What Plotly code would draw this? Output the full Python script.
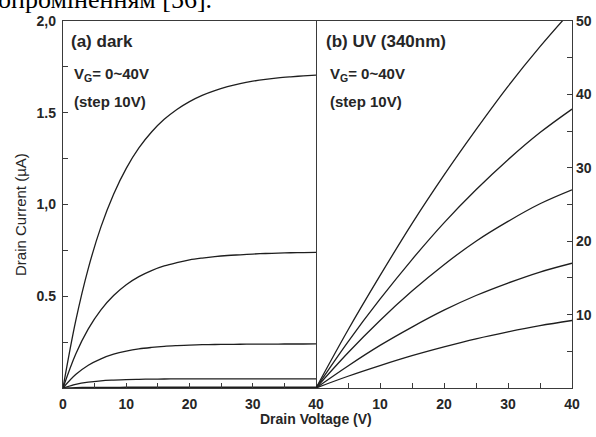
import plotly.graph_objects as go

# Drain voltage sample points (V)
vd_dark = [0, 2, 4, 6, 8, 10, 12, 14, 16, 18, 20, 22, 24, 26, 28, 30, 32, 34, 36, 38, 40]
vd_uv = [0, 5, 10, 15, 20, 25, 30, 35, 40]

# (a) dark: drain current (uA) for VG = 40, 30, 20, 10, 0 V
id_dark_40 = [0, 0.364, 0.652, 0.878, 1.056, 1.197, 1.308, 1.395, 1.464, 1.518, 1.561,
              1.595, 1.621, 1.642, 1.659, 1.672, 1.682, 1.690, 1.696, 1.701, 1.705]
id_dark_30 = [0, 0.184, 0.322, 0.426, 0.504, 0.563, 0.607, 0.640, 0.665, 0.683, 0.698,
              0.708, 0.716, 0.722, 0.726, 0.730, 0.733, 0.735, 0.737, 0.738, 0.739]
id_dark_20 = [0, 0.073, 0.124, 0.159, 0.184, 0.201, 0.213, 0.221, 0.227, 0.231, 0.234,
              0.236, 0.237, 0.238, 0.2385, 0.239, 0.2393, 0.2396, 0.2398, 0.2399, 0.24]
id_dark_10 = [0, 0.020, 0.032, 0.039, 0.043, 0.046, 0.0475, 0.0485, 0.049, 0.0494, 0.0496,
              0.0498, 0.0499, 0.05, 0.05, 0.05, 0.05, 0.05, 0.05, 0.05, 0.05]
id_dark_0 = [0, 0.002, 0.003, 0.0035, 0.0038, 0.004, 0.004, 0.004, 0.004, 0.004, 0.004,
             0.004, 0.004, 0.004, 0.004, 0.004, 0.004, 0.004, 0.004, 0.004, 0.004]

# (b) UV 340 nm: drain current (uA) for VG = 40, 30, 20, 10, 0 V
id_uv_40 = [0, 7.9, 15.3, 22.4, 29.0, 35.2, 41.1, 46.5, 51.5]
id_uv_30 = [0, 6.3, 12.1, 17.5, 22.5, 27.0, 31.1, 34.8, 38.0]
id_uv_20 = [0, 4.8, 9.2, 13.2, 16.8, 20.0, 22.7, 25.1, 27.0]
id_uv_10 = [0, 3.0, 5.8, 8.3, 10.6, 12.6, 14.3, 15.8, 17.0]
id_uv_0 = [0, 1.6, 3.05, 4.4, 5.6, 6.7, 7.65, 8.5, 9.2]

left_tick_vals = [0.5, 1.0, 1.5, 2.0]
left_tick_text = ["0.5", "1,0", "1.5", "2,0"]
right_tick_vals = [10, 20, 30, 40, 50]
x_left_ticks = [0, 10, 20, 30, 40]
x_right_ticks = [10, 20, 30, 40]

W, H = 596, 437
ML, MR, MT, MB = 63, 24, 21, 49
pw = W - ML - MR
ph = H - MT - MB
split = (316 - ML) / pw

line_style = dict(color="#1e1e1e", width=1.3, shape="spline", smoothing=1.0)
axis_color = "#3a3a3a"
sans = "Liberation Sans, Arial, sans-serif"
tick_font = dict(family=sans, size=14, color="#262626", weight="bold")

fig = go.Figure()
for ys in [id_dark_40, id_dark_30, id_dark_20, id_dark_10, id_dark_0]:
    fig.add_trace(go.Scatter(x=vd_dark, y=ys, mode="lines", line=line_style,
                             xaxis="x", yaxis="y", showlegend=False))
for ys in [id_uv_40, id_uv_30, id_uv_20, id_uv_10, id_uv_0]:
    fig.add_trace(go.Scatter(x=vd_uv, y=ys, mode="lines", line=line_style,
                             xaxis="x2", yaxis="y2", showlegend=False))

common_axis = dict(showline=True, linecolor=axis_color, linewidth=1.4, automargin=False,
                   showgrid=False, zeroline=False, ticks="inside", ticklen=5,
                   tickwidth=1.2, tickcolor=axis_color, tickfont=tick_font)
minor_x = dict(dtick=5, ticks="inside", ticklen=5, tickwidth=1.2, tickcolor=axis_color)

fig.update_layout(
    width=W, height=H,
    margin=dict(l=ML, r=MR, t=MT, b=MB),
    paper_bgcolor="white", plot_bgcolor="white",
    xaxis=dict(domain=[0, split], range=[0, 40], tickvals=x_left_ticks, minor=minor_x,
               anchor="y", mirror=True, ticklabelstandoff=3, **common_axis),
    xaxis2=dict(domain=[split, 1], range=[0, 40], tickvals=x_right_ticks, minor=minor_x,
                anchor="y2", mirror=True, ticklabelstandoff=3, **common_axis),
    yaxis=dict(domain=[0, 1], range=[0, 2], tickvals=left_tick_vals, ticktext=left_tick_text,
               minor=dict(dtick=0.25, ticks="inside", ticklen=5, tickwidth=1.2,
                          tickcolor=axis_color),
               anchor="x", mirror=True, ticklabelstandoff=3, **common_axis),
    yaxis2=dict(domain=[0, 1], range=[0, 50], tickvals=right_tick_vals, side="right",
                minor=dict(dtick=5, ticks="inside", ticklen=5, tickwidth=1.2,
                           tickcolor=axis_color),
                anchor="x2", mirror=False, **common_axis),
)


def px_x(p):
    return (p - ML) / pw


def px_y(p):
    return 1 - (p - MT) / ph


notes = [
    ("<b>(a) dark</b>", 69, 42, 17),
    ("<b>V<sub>G</sub>= 0~40V</b>", 72, 75, 15),
    ("<b>(step 10V)</b>", 72, 101, 15),
    ("<b>(b) UV (340nm)</b>", 324, 42, 17),
    ("<b>V<sub>G</sub>= 0~40V</b>", 328, 75, 15),
    ("<b>(step 10V)</b>", 328, 101, 15),
]
for text, x, y, size in notes:
    fig.add_annotation(text=text, xref="paper", yref="paper", x=px_x(x), y=px_y(y),
                       xanchor="left", yanchor="middle", showarrow=False,
                       font=dict(family=sans, size=size, color="#262626"))

fig.add_annotation(text="<b>Drain Voltage (V)</b>", xref="paper", yref="paper",
                   x=px_x(316), y=px_y(419), xanchor="center", yanchor="middle",
                   showarrow=False, font=dict(family=sans, size=14, color="#262626"))
fig.add_annotation(text="Drain Current (µA)", xref="paper", yref="paper",
                   x=px_x(20), y=px_y(215), xanchor="center", yanchor="middle",
                   textangle=-90, showarrow=False,
                   font=dict(family=sans, size=15, color="#262626"))

# Running text line from the page above the figure
fig.add_annotation(text="опроміненням [56].", xref="paper", yref="paper",
                   x=px_x(-4), y=px_y(16), xanchor="left", yanchor="bottom",
                   showarrow=False,
                   font=dict(family="Liberation Serif, Times New Roman, serif", size=26,
                             color="#000000"))

fig.write_html("out.html")
